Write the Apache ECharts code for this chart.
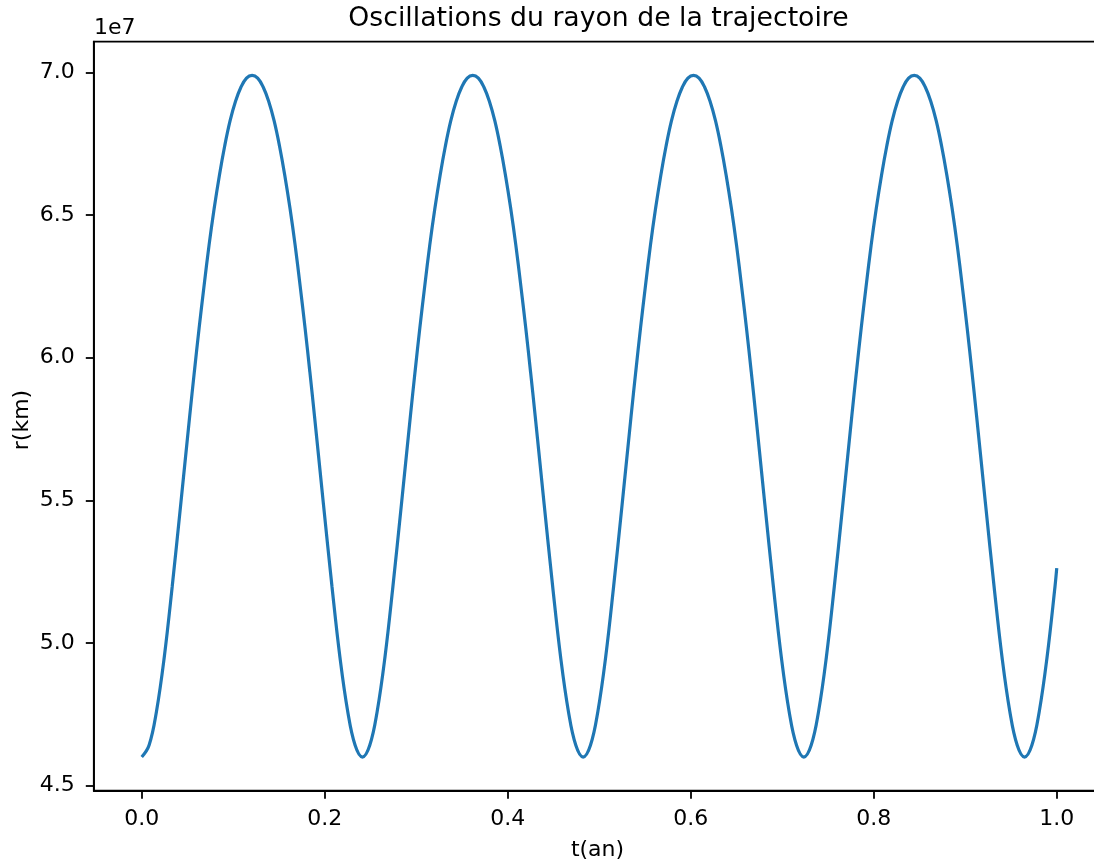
<!DOCTYPE html>
<html>
<head>
<meta charset="utf-8">
<script src="https://cdn.jsdelivr.net/npm/echarts@6/dist/echarts.min.js"></script>
<style>
html,body{margin:0;padding:0;background:#fff;}
#chart{width:1094px;height:865px;}
</style>
</head>
<body>
<div id="chart"></div>
<script>
// time in years (one array per orbital cycle)
const timeCycle1 = [0, 0.0080, 0.0161, 0.0246, 0.0333, 0.0426, 0.0524, 0.0575, 0.0627, 0.0681, 0.0735, 0.0791,
  0.0849, 0.0907, 0.0965, 0.1025, 0.1085, 0.1145, 0.1206, 0.1267, 0.1327, 0.1387, 0.1447, 0.1505,
  0.1563, 0.1621, 0.1677, 0.1731, 0.1785, 0.1837, 0.1888, 0.1986, 0.2079, 0.2166, 0.2251, 0.2332];
const timeCycle2 = [0.2412, 0.2492, 0.2573, 0.2658, 0.2745, 0.2838, 0.2936, 0.2987, 0.3039, 0.3093, 0.3147, 0.3203,
  0.3261, 0.3319, 0.3377, 0.3437, 0.3497, 0.3557, 0.3618, 0.3679, 0.3739, 0.3799, 0.3859, 0.3917,
  0.3975, 0.4033, 0.4089, 0.4143, 0.4197, 0.4249, 0.4300, 0.4398, 0.4491, 0.4578, 0.4663, 0.4744];
const timeCycle3 = [0.4824, 0.4904, 0.4985, 0.5070, 0.5157, 0.5250, 0.5348, 0.5399, 0.5451, 0.5505, 0.5559, 0.5615,
  0.5673, 0.5731, 0.5789, 0.5849, 0.5909, 0.5969, 0.6030, 0.6091, 0.6151, 0.6211, 0.6271, 0.6329,
  0.6387, 0.6445, 0.6501, 0.6555, 0.6609, 0.6661, 0.6712, 0.6810, 0.6903, 0.6990, 0.7075, 0.7156];
const timeCycle4 = [0.7236, 0.7316, 0.7397, 0.7482, 0.7569, 0.7662, 0.7760, 0.7811, 0.7863, 0.7917, 0.7971, 0.8027,
  0.8085, 0.8143, 0.8201, 0.8261, 0.8321, 0.8381, 0.8442, 0.8503, 0.8563, 0.8623, 0.8683, 0.8741,
  0.8799, 0.8857, 0.8913, 0.8967, 0.9021, 0.9073, 0.9124, 0.9222, 0.9315, 0.9402, 0.9487, 0.9568];
const timeCycle5 = [0.9648, 0.9728, 0.9809, 0.9894, 0.9981, 1.0];

// radius in units of 1e7 km, read per cycle
const radiusCycle1 = [4.600, 4.641, 4.760, 4.950, 5.198, 5.486, 5.795, 5.951, 6.104, 6.252, 6.393, 6.522,
  6.640, 6.743, 6.830, 6.899, 6.949, 6.980, 6.990, 6.980, 6.949, 6.899, 6.830, 6.743,
  6.640, 6.522, 6.393, 6.252, 6.104, 5.951, 5.795, 5.486, 5.198, 4.950, 4.760, 4.641];
const radiusCycle2 = [4.600, 4.641, 4.760, 4.950, 5.198, 5.486, 5.795, 5.951, 6.104, 6.252, 6.393, 6.522,
  6.640, 6.743, 6.830, 6.899, 6.949, 6.980, 6.990, 6.980, 6.949, 6.899, 6.830, 6.743,
  6.640, 6.522, 6.393, 6.252, 6.104, 5.951, 5.795, 5.486, 5.198, 4.950, 4.760, 4.641];
const radiusCycle3 = [4.600, 4.641, 4.760, 4.950, 5.198, 5.486, 5.795, 5.951, 6.104, 6.252, 6.393, 6.522,
  6.640, 6.743, 6.830, 6.899, 6.949, 6.980, 6.990, 6.980, 6.949, 6.899, 6.830, 6.743,
  6.640, 6.522, 6.393, 6.252, 6.104, 5.951, 5.795, 5.486, 5.198, 4.950, 4.760, 4.641];
const radiusCycle4 = [4.600, 4.641, 4.760, 4.950, 5.198, 5.486, 5.795, 5.951, 6.104, 6.252, 6.393, 6.522,
  6.640, 6.743, 6.830, 6.899, 6.949, 6.980, 6.990, 6.980, 6.949, 6.899, 6.830, 6.743,
  6.640, 6.522, 6.393, 6.252, 6.104, 5.951, 5.795, 5.486, 5.198, 4.950, 4.760, 4.641];
const radiusCycle5 = [4.600, 4.641, 4.760, 4.950, 5.198, 5.262];

const xTicks = [0.0, 0.2, 0.4, 0.6, 0.8, 1.0];
const yTicks = [4.5, 5.0, 5.5, 6.0, 6.5, 7.0];

const titleText = 'Oscillations du rayon de la trajectoire';
const xLabelText = 't(an)';
const yLabelText = 'r(km)';
const offsetText = '1e7';

const FONT = 'DejaVu Sans';
const allTimes = [].concat(timeCycle1, timeCycle2, timeCycle3, timeCycle4, timeCycle5);
const allRadius = [].concat(radiusCycle1, radiusCycle2, radiusCycle3, radiusCycle4, radiusCycle5);
const seriesData = allTimes.map((t, i) => [t, allRadius[i]]);

const chart = echarts.init(document.getElementById('chart'), null, {renderer: 'canvas'});
chart.setOption({
  animation: false,
  backgroundColor: '#ffffff',
  grid: {
    left: 93.8, top: 41.7, width: 1008.7, height: 749,
    outerBoundsMode: 'none',
    containLabel: false,
    show: true, borderColor: '#000', borderWidth: 1.8, backgroundColor: 'transparent'
  },
  xAxis: {
    type: 'value', min: -0.0524, max: 1.05,
    splitLine: {show: false},
    axisLine: {show: true, onZero: false, lineStyle: {color: '#000', width: 1.8}},
    axisTick: {show: true, inside: false, length: 8, lineStyle: {color: '#000', width: 1.8}, customValues: xTicks},
    axisLabel: {
      show: true, margin: 18, color: '#000', fontFamily: FONT, fontSize: 22,
      customValues: xTicks, formatter: v => v.toFixed(1)
    }
  },
  yAxis: {
    type: 'value', min: 4.482, max: 7.108,
    splitLine: {show: false},
    axisLine: {show: true, onZero: false, lineStyle: {color: '#000', width: 1.8}},
    axisTick: {show: true, inside: false, length: 8, lineStyle: {color: '#000', width: 1.8}, customValues: yTicks},
    axisLabel: {
      show: true, margin: 19, color: '#000', fontFamily: FONT, fontSize: 22,
      customValues: yTicks, formatter: v => v.toFixed(1)
    }
  },
  series: [{
    type: 'line',
    data: seriesData,
    showSymbol: false,
    smooth: 0.4,
    lineStyle: {color: '#1f77b4', width: 3.2},
    clip: true
  }],
  graphic: [
    {type: 'text', x: 598.5, y: 19.5, style: {text: titleText, font: '26.7px "DejaVu Sans"', fill: '#000', align: 'center', verticalAlign: 'middle'}},
    {type: 'text', x: 94, y: 28, style: {text: offsetText, font: '22px "DejaVu Sans"', fill: '#000', align: 'left', verticalAlign: 'middle'}},
    {type: 'text', x: 597.5, y: 850, style: {text: xLabelText, font: '22px "DejaVu Sans"', fill: '#000', align: 'center', verticalAlign: 'middle'}},
    {type: 'text', x: 22, y: 420, rotation: Math.PI / 2, style: {text: yLabelText, font: '22px "DejaVu Sans"', fill: '#000', align: 'center', verticalAlign: 'middle'}}
  ]
});
</script>
</body>
</html>
